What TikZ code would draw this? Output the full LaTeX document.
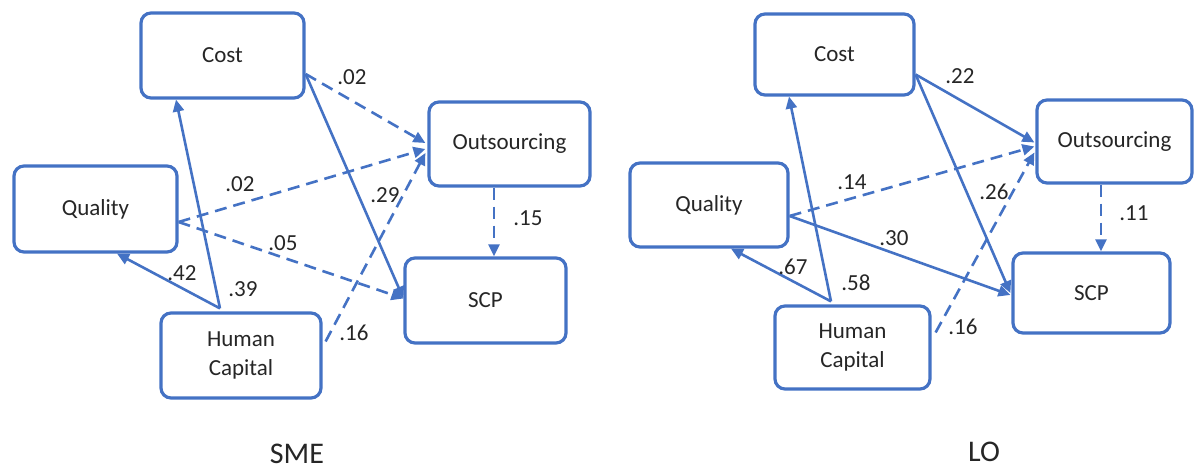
\documentclass[tikz,border=0pt]{standalone}
\usepackage{fontspec}
\setmainfont{Carlito}
\usetikzlibrary{arrows.meta,calc}
\definecolor{myblue}{RGB}{68,114,196}
\definecolor{txt}{RGB}{38,38,38}
\begin{document}
\begin{tikzpicture}[x=0.5pt,y=-0.5pt,
 box/.style={draw=myblue,line width=1.6pt,rounded corners=5pt,fill=white,align=center,
   font=\fontsize{11.5}{14.5}\selectfont,text=txt,inner sep=0pt},
 arr/.style={draw=myblue,line width=1.3pt,-{Triangle[length=6pt,width=5.5pt]}},
 darr/.style={arr,dash pattern=on 6pt off 3.5pt},
 lbl/.style={font=\fontsize{11.5}{13}\selectfont,text=txt,inner sep=1pt},
 ttl/.style={font=\fontsize{15}{16}\selectfont,text=txt,inner sep=0pt}]
\useasboundingbox (0,0) rectangle (1194,474);
% ---------- SME ----------
\node[box,minimum width=81.5pt,minimum height=42.5pt] (cost1) at (222.5,55.5) {Cost};
\node[box,minimum width=80.5pt,minimum height=42pt] (out1) at (509.5,144) {Outsourcing};
\node[box,minimum width=81.5pt,minimum height=43pt] (qual1) at (95.5,209) {Quality};
\node[box,minimum width=80.5pt,minimum height=42.5pt] (scp1) at (485.5,300.5) {SCP};
\node[box,minimum width=80pt,minimum height=42.5pt] (hc1) at (241,355.5) {Human\\Capital};
\node[ttl] (sme) at (297,454) {SME};

\draw[darr] ($(cost1.east)+(0,18.5)$) -- ($(out1.west)+(-2,-1)$);
\draw[arr] ($(cost1.east)+(0,18.5)$) -- ($(scp1.west)+(0,-2)$);
\draw[darr] ($(qual1.east)+(0,13)$) -- ($(out1.west)+(-2,5)$);
\draw[darr] ($(qual1.east)+(0,13)$) -- ($(scp1.west)+(0,-2)$);
\draw[arr] ($(hc1.north)+(-21,-3)$) -- ($(qual1.south)+(21.5,0)$);
\draw[arr] ($(hc1.north)+(-21,-3)$) -- ($(cost1.south)+(-46.5,0)$);
\draw[darr] ($(hc1.east)+(3,-14)$) -- ($(out1.west)+(-2,9)$);
\draw[darr] ($(out1.south)+(-15.5,0)$) -- ($(scp1.north)+(8.5,0)$);

\node[lbl] (l1) at (352,77) {.02};
\node[lbl] (l2) at (385,195) {.29};
\node[lbl] (l3) at (240,184) {.02};
\node[lbl] (l4) at (283,243) {.05};
\node[lbl] (l5) at (182,273) {.42};
\node[lbl] (l6) at (243,289) {.39};
\node[lbl] (l7) at (354,333) {.16};
\node[lbl] (l8) at (528,218) {.15};

% ---------- LO ----------
\node[box,minimum width=79.5pt,minimum height=40.5pt] (cost2) at (834.5,54.5) {Cost};
\node[box,minimum width=77.5pt,minimum height=41.5pt] (out2) at (1114.5,141.5) {Outsourcing};
\node[box,minimum width=79pt,minimum height=42pt] (qual2) at (709,205) {Quality};
\node[box,minimum width=78.5pt,minimum height=40pt] (scp2) at (1091.5,293) {SCP};
\node[box,minimum width=77.5pt,minimum height=41.5pt] (hc2) at (852.5,347.5) {Human\\Capital};
\node[ttl] (lo) at (984,452) {LO};

\draw[arr] ($(cost2.east)+(0,20)$) -- ($(out2.west)+(-1,1)$);
\draw[arr] ($(cost2.east)+(0,20)$) -- ($(scp2.west)+(-1,0)$);
\draw[darr] ($(qual2.east)+(0,11)$) -- ($(out2.west)+(-1,5)$);
\draw[arr] ($(qual2.east)+(0,11)$) -- ($(scp2.west)+(-1,2)$);
\draw[arr] ($(hc2.north)+(-21.5,-3)$) -- ($(qual2.south)+(22,0)$);
\draw[arr] ($(hc2.north)+(-21.5,-3)$) -- ($(cost2.south)+(-45.5,0)$);
\draw[darr] ($(hc2.east)+(4,-15)$) -- ($(out2.west)+(-1,11)$);
\draw[darr] ($(out2.south)+(-13.5,0)$) -- ($(scp2.north)+(9.5,0)$);

\node[lbl] (m1) at (960,76) {.22};
\node[lbl] (m2) at (994,192) {.26};
\node[lbl] (m3) at (852,182) {.14};
\node[lbl] (m4) at (894,238) {.30};
\node[lbl] (m5) at (793,267) {.67};
\node[lbl] (m6) at (856,283) {.58};
\node[lbl] (m7) at (963,327) {.16};
\node[lbl] (m8) at (1134,213) {.11};
\end{tikzpicture}
\end{document}
